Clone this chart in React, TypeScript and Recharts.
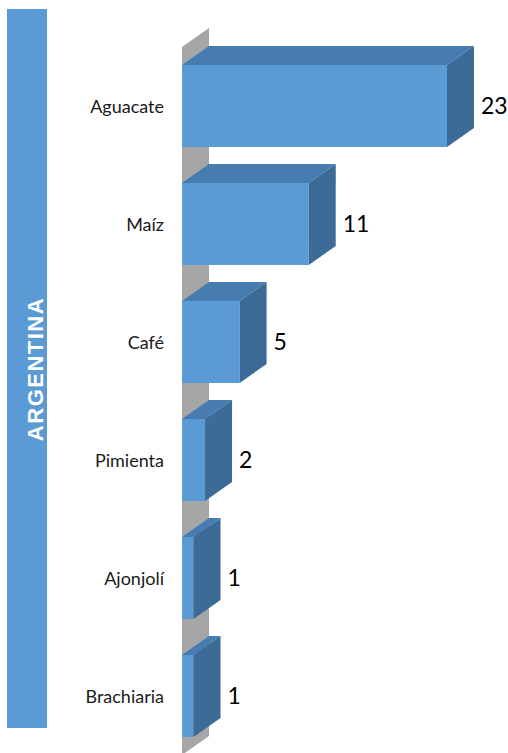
import React from "react";
import { BarChart, Bar, XAxis, YAxis, ReferenceArea, LabelList } from "recharts";

const categories = ["Aguacate", "Maíz", "Café", "Pimienta", "Ajonjolí", "Brachiaria"];
const values = [23, 11, 5, 2, 1, 1];
const countryLabel = "ARGENTINA";

const data = categories.map((name, i) => ({ name, value: values[i] }));

const DX = 27;
const DY = 19;
const FRONT = "#5b9bd5";
const TOP = "#477cb1";
const SIDE = "#3d6b98";
const WALL = "#a6a6a6";

const Bar3D = (props: any) => {
  const { x, y, width, height } = props;
  if (width == null || height == null) return null;
  const w = Math.max(width, 0);
  return (
    <g>
      <rect x={x} y={y} width={w} height={height} fill={FRONT} />
      <polygon
        points={`${x},${y} ${x + w},${y} ${x + w + DX},${y - DY} ${x + DX},${y - DY}`}
        fill={TOP}
      />
      <polygon
        points={`${x + w},${y} ${x + w + DX},${y - DY} ${x + w + DX},${y + height - DY} ${x + w},${y + height}`}
        fill={SIDE}
      />
    </g>
  );
};

const Wall = (props: any) => {
  const { x, y, height } = props;
  return (
    <polygon
      points={`${x},${y} ${x + DX},${y - DY} ${x + DX},${y + height - DY} ${x},${y + height}`}
      fill={WALL}
    />
  );
};

const CategoryTick = (props: any) => {
  const { x, y, payload } = props;
  return (
    <text
      x={x}
      y={y}
      dy={7}
      textAnchor="end"
      fontFamily="Lato, 'Open Sans', sans-serif"
      fontSize={18}
      fill="#1a1a1a"
    >
      {payload.value}
    </text>
  );
};

const ValueLabel = (props: any) => {
  const { x, y, width, height, value } = props;
  return (
    <text
      x={x + width + DX + 7}
      y={y + height / 2}
      dy={8}
      textAnchor="start"
      fontFamily="Lato, 'Open Sans', sans-serif"
      fontSize={23}
      fill="#000"
    >
      {value}
    </text>
  );
};

export default function App() {
  return (
    <div
      style={{
        position: "absolute",
        left: 0,
        top: 0,
        width: 508,
        height: 753,
        overflow: "hidden",
        background: "#fff",
      }}
    >
      <div
        style={{
          position: "absolute",
          left: 7,
          top: 9,
          width: 40,
          height: 719,
          background: FRONT,
        }}
      >
        <svg width={40} height={719}>
          <text
            x={0}
            y={0}
            transform="translate(28,360) rotate(-90)"
            textAnchor="middle"
            dy={8}
            fontFamily="'Liberation Sans', Arial, sans-serif"
            fontWeight="bold"
            fontSize={22}
            letterSpacing={1.5}
            fill="#fff"
          >
            {countryLabel}
          </text>
        </svg>
      </div>
      <div style={{ position: "absolute", left: 0, top: 0 }}>
        <BarChart
          width={508}
          height={760}
          data={data}
          layout="vertical"
          margin={{ top: 47, right: 38, bottom: 5, left: 0 }}
        >
          <XAxis type="number" domain={[0, 25]} hide />
          <YAxis
            type="category"
            dataKey="name"
            width={182}
            axisLine={false}
            tickLine={false}
            tickSize={0}
            tickMargin={18}
            tick={<CategoryTick />}
            interval={0}
          />
          <ReferenceArea x1={0} x2={25} shape={<Wall />} fill={WALL} />
          <Bar
            dataKey="value"
            barSize={82}
            isAnimationActive={false}
            shape={(p: any) => <Bar3D {...p} />}
          >
            <LabelList dataKey="value" content={<ValueLabel />} />
          </Bar>
        </BarChart>
      </div>
    </div>
  );
}
